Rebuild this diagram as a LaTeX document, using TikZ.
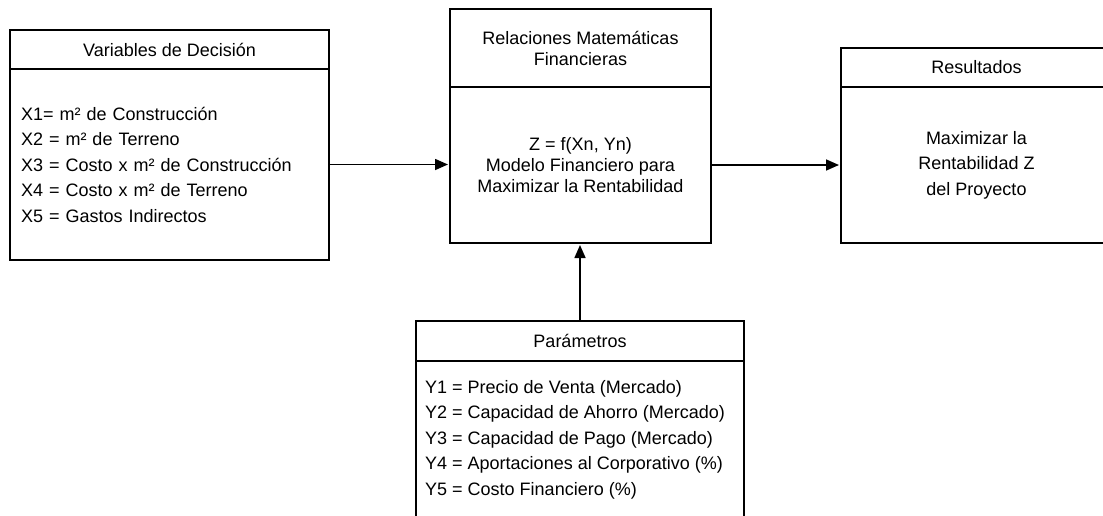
\documentclass[tikz,border=0pt]{standalone}
\usepackage{fontspec}
\setmainfont{Liberation Sans}
\usetikzlibrary{arrows.meta,positioning}

\begin{document}
\begin{tikzpicture}[x=1pt, y=-1pt, font=\fontsize{18}{25.5}\selectfont,
  head/.style={draw, line width=1.8pt, outer sep=0pt, inner sep=0pt, align=center, anchor=north west},
  body/.style={draw, line width=1.8pt, outer sep=0pt, inner sep=0pt},
  arr/.style={-{Triangle[length=13pt, width=11pt]}, line width=1.6pt, shorten >=2pt},
  tight/.style={font=\fontsize{18}{21}\selectfont}]
  \useasboundingbox (0,0) rectangle (1103,515);
  \clip (0,0) rectangle (1103,515);
  % decision variables
  \node[head, minimum width=319pt, minimum height=39pt] (varhead) at (10,30) {Variables de Decisión};
  \node[body, below=0pt of varhead, minimum width=319pt, minimum height=191pt, text width=297pt, align=left] (varbody)
    {X1= m² de Construcción\\X2 = m² de Terreno\\X3 = Costo x m² de Construcción\\X4 = Costo x m² de Terreno\\X5 = Gastos Indirectos};
  % financial model
  \node[head, tight, minimum width=261pt, minimum height=78pt] (relhead) at (450,9) {Relaciones Matemáticas\\Financieras};
  \node[body, tight, below=0pt of relhead, minimum width=261pt, minimum height=156pt, align=center] (relbody)
    {Z = f(Xn, Yn)\\Modelo Financiero para\\Maximizar la Rentabilidad};
  % results
  \node[head, minimum width=271pt, minimum height=39pt] (reshead) at (841,48) {Resultados};
  \node[body, below=0pt of reshead, minimum width=271pt, minimum height=156pt, align=center] (resbody)
    {Maximizar la\\Rentabilidad Z\\del Proyecto};
  % parameters
  \node[head, minimum width=328pt, minimum height=40pt] (parhead) at (416,321) {Parámetros};
  \node[body, below=0pt of parhead, minimum width=328pt, minimum height=220pt] (parbody) {};
  \node[anchor=north west, align=left, inner sep=0pt] (parlist) at ([xshift=9pt, yshift=-19pt]parbody.north west)
    {Y1 = Precio de Venta (Mercado)\\Y2 = Capacidad de Ahorro (Mercado)\\Y3 = Capacidad de Pago (Mercado)\\Y4 = Aportaciones al Corporativo (\%)\\Y5 = Costo Financiero (\%)};
  % connectors
  \draw[arr] (varbody.east) -- (varbody.east -| relbody.west);
  \draw[arr] (relbody.east) -- (relbody.east -| resbody.west);
  \draw[arr] (parhead.north) -- (parhead.north |- relbody.south);
\end{tikzpicture}
\end{document}
